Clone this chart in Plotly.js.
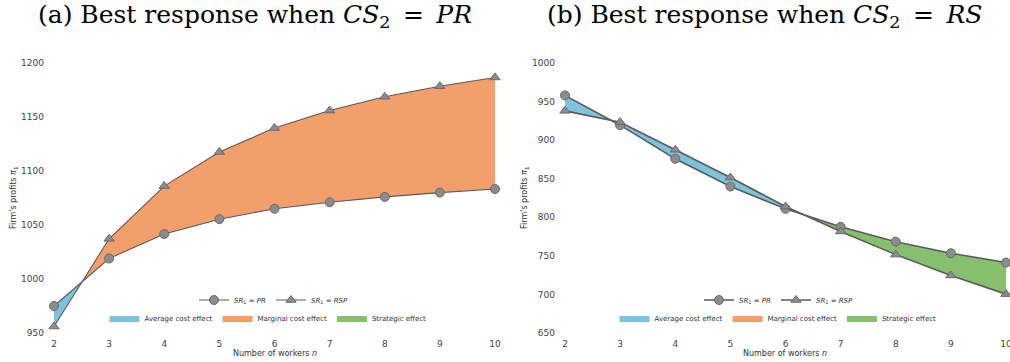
<!DOCTYPE html>
<html>
<head>
<meta charset="utf-8">
<script src="https://cdn.plot.ly/plotly-3.0.1.min.js"></script>
<style>html,body{margin:0;padding:0;background:#fff;}#chart{width:1010px;height:362px;}</style>
</head>
<body>
<div id="chart"></div>
<script>
// ---- data ----
const workers = [2, 3, 4, 5, 6, 7, 8, 9, 10];
const tickValsX = [2, 3, 4, 5, 6, 7, 8, 9, 10];
// (a) Best response when CS2 = PR
const leftPR  = [975, 1019, 1041.7, 1055.4, 1065, 1071, 1076, 1080, 1083.3];
const leftRSP = [956, 1037.2, 1086, 1117.6, 1139.8, 1156, 1168.7, 1178.5, 1186.6];
const leftTicksY = [950, 1000, 1050, 1100, 1150, 1200];
// (b) Best response when CS2 = RS
const rightPR  = [958, 919.4, 875.8, 839.8, 811, 787.6, 768.4, 753.4, 741.3];
const rightRSP = [938, 923.3, 887.5, 851.5, 813.9, 781.6, 751.6, 724.6, 700.4];
const rightTicksY = [650, 700, 750, 800, 850, 900, 950, 1000];
// effect names and which segment (index between workers[k] and workers[k+1]) splits the effects
const effectNames = ["Average cost effect", "Marginal cost effect", "Strategic effect"];
const leftEffects = ["Average cost effect", "Marginal cost effect"];
const leftSplitSegment = 0;
const rightEffects = ["Average cost effect", "Strategic effect"];
const rightSplitSegment = 4;

const effectColors = {"Average cost effect": "#7ec3de", "Marginal cost effect": "#f39f6b", "Strategic effect": "#86bf6e"};

// crossing of the two series inside a segment (linear interpolation)
function crossing(xs, a, b, k) {
  const d0 = a[k] - b[k], d1 = a[k+1] - b[k+1];
  const t = d0 / (d0 - d1);
  return xs[k] + t * (xs[k+1] - xs[k]);
}
function interp(xs, ys, x) {
  for (let i = 0; i < xs.length - 1; i++) {
    if (x >= xs[i] && x <= xs[i+1]) {
      const t = (x - xs[i]) / (xs[i+1] - xs[i]);
      return ys[i] + t * (ys[i+1] - ys[i]);
    }
  }
  return ys[ys.length - 1];
}
function region(xs, a, b, x0, x1) {
  const px = [x0], pa = [interp(xs, a, x0)], pb = [interp(xs, b, x0)];
  xs.forEach((x, i) => { if (x > x0 && x < x1) { px.push(x); pa.push(a[i]); pb.push(b[i]); } });
  px.push(x1); pa.push(interp(xs, a, x1)); pb.push(interp(xs, b, x1));
  return {x: px.concat(px.slice().reverse()), y: pa.concat(pb.slice().reverse())};
}

function panelTraces(a, b, effects, splitSeg, xa, ya, legLines, legFill, lineW) {
  const traces = [];
  const xc = crossing(workers, a, b, splitSeg);
  const bounds = [[workers[0], xc], [xc, workers[workers.length - 1]]];
  effectNames.forEach(name => {
    const idx = effects.indexOf(name);
    let poly = {x: [null], y: [null]};
    if (idx >= 0) poly = region(workers, a, b, bounds[idx][0], bounds[idx][1]);
    traces.push({
      x: poly.x, y: poly.y, xaxis: xa, yaxis: ya, type: 'scatter', mode: 'lines',
      fill: 'toself', fillcolor: effectColors[name], line: {width: 0, color: effectColors[name]},
      name: name, legend: legFill, hoverinfo: 'skip'
    });
  });
  traces.push({
    x: workers, y: a, xaxis: xa, yaxis: ya, type: 'scatter', mode: 'lines+markers', cliponaxis: false,
    name: '<i>SR</i><sub>1</sub> = <i>PR</i>', legend: legLines,
    line: {color: '#5a5a5a', width: lineW},
    marker: {symbol: 'circle', size: 9, color: '#8c8c8c', line: {color: '#6a6a6a', width: 1}}
  });
  traces.push({
    x: workers, y: b, xaxis: xa, yaxis: ya, type: 'scatter', mode: 'lines+markers', cliponaxis: false,
    name: '<i>SR</i><sub>1</sub> = <i>RSP</i>', legend: legLines,
    line: {color: '#5a5a5a', width: lineW},
    marker: {symbol: 'triangle-up', size: 9, color: '#8c8c8c', line: {color: '#6a6a6a', width: 1}}
  });
  return traces;
}

const data = [].concat(
  panelTraces(leftPR, leftRSP, leftEffects, leftSplitSegment, 'x', 'y', 'legend', 'legend2', 1.1),
  panelTraces(rightPR, rightRSP, rightEffects, rightSplitSegment, 'x2', 'y2', 'legend3', 'legend4', 1.6)
);

const W = 1010, H = 362;
const tickFont = {family: 'DejaVu Sans, sans-serif', size: 9, color: '#444'};
function xAxis(dom) {
  return {domain: dom, range: [2, 10], tickvals: tickValsX, showgrid: false, zeroline: false,
    showline: false, ticks: '', tickfont: tickFont, ticklabelstandoff: 4, fixedrange: true,
    ticklabeloverflow: 'allow'};
}
function yAxis(range, ticks) {
  return {domain: [1 - 333/H, 1 - 63/H], range: range, tickvals: ticks, showgrid: false, zeroline: false,
    showline: false, ticks: '', tickfont: tickFont, ticklabelstandoff: 9, fixedrange: true};
}
const legFont = {family: 'DejaVu Sans, sans-serif', size: 7, color: '#333'};
function leg(xc, yc) {
  return {orientation: 'h', x: xc / W, y: 1 - yc / H, xanchor: 'center', yanchor: 'middle',
    bgcolor: 'rgba(0,0,0,0)', font: legFont, traceorder: 'normal', itemwidth: 30, tracegroupgap: 0};
}
const titleFont = {family: 'DejaVu Serif, serif', size: 25, color: '#000'};
const axTitleFont = {family: 'DejaVu Sans, sans-serif', size: 8, color: '#333'};

const layout = {
  width: W, height: H, margin: {l: 0, r: 0, t: 0, b: 0},
  paper_bgcolor: '#fff', plot_bgcolor: '#fff', hovermode: false,
  xaxis: xAxis([54/W, 495/W]),
  yaxis: yAxis([950, 1200], leftTicksY),
  xaxis2: xAxis([565/W, 1006/W]),
  yaxis2: Object.assign(yAxis([650, 1000], rightTicksY), {anchor: 'x2'}),
  legend: leg(274, 300), legend2: leg(268, 318),
  legend3: leg(779, 300), legend4: leg(778, 318),
  annotations: [
    {text: '(a) Best response when <i>CS</i><sub>2</sub>&#8194;=&#8194;<i>PR</i>', xref: 'paper', yref: 'paper',
     x: 255/W, y: 1 - 16/H, xanchor: 'center', yanchor: 'middle', showarrow: false, font: titleFont},
    {text: '(b) Best response when <i>CS</i><sub>2</sub>&#8194;=&#8194;<i>RS</i>', xref: 'paper', yref: 'paper',
     x: 764/W, y: 1 - 16/H, xanchor: 'center', yanchor: 'middle', showarrow: false, font: titleFont},
    {text: 'Number of workers <i>n</i>', xref: 'paper', yref: 'paper', x: 275/W, y: 1 - 353/H,
     xanchor: 'center', yanchor: 'middle', showarrow: false, font: axTitleFont},
    {text: 'Number of workers <i>n</i>', xref: 'paper', yref: 'paper', x: 785/W, y: 1 - 353/H,
     xanchor: 'center', yanchor: 'middle', showarrow: false, font: axTitleFont},
    {text: "Firm's profits <i>π</i><sub>1</sub>", xref: 'paper', yref: 'paper', x: 14/W, y: 1 - 198/H,
     xanchor: 'center', yanchor: 'middle', showarrow: false, font: axTitleFont, textangle: -90},
    {text: "Firm's profits <i>π</i><sub>1</sub>", xref: 'paper', yref: 'paper', x: 525/W, y: 1 - 198/H,
     xanchor: 'center', yanchor: 'middle', showarrow: false, font: axTitleFont, textangle: -90}
  ]
};

Plotly.newPlot('chart', data, layout, {staticPlot: true, displayModeBar: false});
</script>
</body>
</html>
